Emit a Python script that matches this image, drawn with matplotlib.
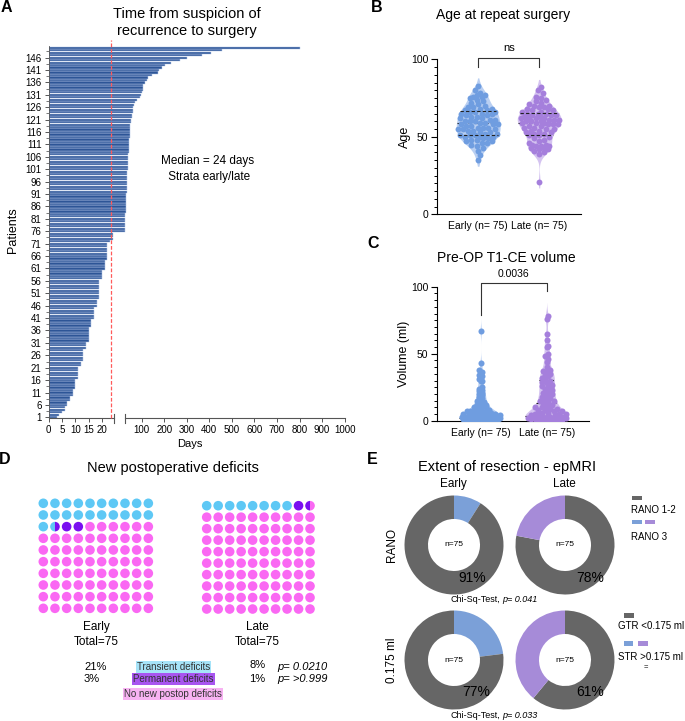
import numpy as np
import matplotlib
matplotlib.use('Agg')
import matplotlib.pyplot as plt
from matplotlib.patches import Circle, Wedge, Rectangle
from matplotlib.ticker import NullLocator, FixedLocator

plt.rcParams['font.family'] = ['Liberation Sans', 'DejaVu Sans']
plt.rcParams['axes.linewidth'] = 0.8

# ---------------- data ----------------
# Panel A: days from suspicion of recurrence to surgery (sorted, patient 1..150)
days = [3, 4, 5, 6, 6, 7, 7, 8, 8, 9,
        9, 9, 10, 10, 10, 10, 11, 11, 11, 11,
        11, 12, 12, 13, 13, 13, 13, 13, 14, 14,
        14, 15, 15, 15, 15, 15, 15, 16, 16, 16,
        17, 17, 17, 17, 17, 18, 18, 18, 19, 19,
        19, 19, 19, 19, 19, 19, 20, 20, 20, 20,
        21, 21, 21, 21, 22, 22, 22, 22, 22, 22,
        22, 23, 24, 24, 24,
        26, 26, 26, 27, 27, 28, 28, 28, 29, 29, 30, 30, 30, 31, 31,
        32, 33, 33, 34, 34, 35, 35, 36, 36, 37,
        38, 38, 39, 39, 40, 41, 41, 42, 42, 43,
        44, 45, 45, 46, 46, 47, 48, 49, 50, 51,
        54, 55, 57, 60, 63, 63, 66, 71, 81,
        92, 98, 101, 104, 104, 107, 115, 122, 129, 144,
        172, 177, 191, 202, 229, 270, 300, 367, 406, 455, 800]
median_line = 23.3
xticks_left = [0, 5, 10, 15, 20]
xticks_right = [100, 200, 300, 400, 500, 600, 700, 800, 900, 1000]
ytick_patients = list(range(1, 150, 5))

# Panel B: age at repeat surgery
age_early = [35, 38, 41, 43, 44, 45, 46, 46, 47, 47, 48, 48, 49, 49, 50, 50, 50, 51, 51, 51,
             52, 52, 53, 53, 54, 54, 55, 55, 55, 56, 56, 56, 57, 57, 58, 58, 58, 59, 59, 60,
             60, 60, 61, 61, 62, 62, 63, 63, 64, 64, 65, 65, 65, 66, 66, 66, 67, 67, 68, 68,
             69, 69, 70, 71, 72, 73, 74, 75, 76, 76, 77, 77, 78, 80, 83]
age_late = [21, 39, 40, 41, 42, 42, 43, 43, 44, 44, 44, 45, 45, 46, 47, 48, 49, 50, 51, 51,
            52, 52, 53, 53, 54, 54, 55, 55, 56, 56, 57, 57, 58, 58, 58, 59, 59, 59, 60, 60,
            60, 61, 61, 61, 62, 62, 62, 62, 63, 63, 64, 64, 64, 65, 65, 65, 66, 66, 67, 67,
            68, 68, 69, 69, 70, 70, 71, 72, 73, 74, 75, 76, 78, 80, 82]
# Panel C: pre-OP T1-CE volume (ml)
vol_early = [67, 43, 38, 36, 34, 33, 31, 30, 30, 25, 24, 23, 22, 21, 20, 19, 18, 17, 16, 15,
             14, 13, 12, 12, 11, 10, 10, 9, 9, 8, 8, 7, 7, 7, 6, 6, 6, 5, 5, 5,
             5, 4, 4, 4, 4, 4, 3, 3, 3, 3, 3, 3, 2, 2, 2, 2, 2, 2, 2, 1.5,
             1.5, 1.5, 1, 1, 1, 1, 1, 1, 0.5, 0.5, 0.5, 0.5, 0.3, 0.2, 0.1]
vol_late = [78, 76, 65, 60, 56, 55, 50, 48, 46, 44, 40, 38, 37, 36, 35, 34, 33, 32, 31, 30,
            29, 28, 27, 26, 25, 24, 23, 22, 21, 20, 19, 18, 17, 16, 15, 15, 14, 13, 12, 11,
            10, 10, 9, 9, 8, 8, 7, 7, 6, 6, 5, 5, 5, 4, 4, 4, 3, 3, 3, 3,
            2, 2, 2, 2, 1.5, 1.5, 1, 1, 1, 0.5, 0.5, 0.5, 0.3, 0.2, 0.1]
group_labels = ['Early (n= 75)', 'Late (n= 75)']
p_age = 'ns'
p_vol = '0.0036'

# Panel D: new postoperative deficits (percent of dots)
def_labels = ['Transient deficits', 'Permanent deficits', 'No new postop deficits']
def_early = [21.5, 2.5, 76.0]
def_late = [8.0, 1.5, 90.5]
def_early_txt = ['21%', '3%']
def_late_txt = ['8%', '1%']
def_pvals = ['p= 0.0210', 'p= >0.999']

# Panel E: extent of resection
rano_early = [91, 9]      # RANO 1-2, RANO 3
rano_late = [78, 22]
ml_early = [77, 23]       # GTR, STR
ml_late = [61, 39]
eor_p = ['p= 0.041', 'p= 0.033']

# ---------------- figure ----------------
W, H = 685, 721
fig = plt.figure(figsize=(W / 100, H / 100), dpi=100)


def box(x0, y0, x1, y1):
    return [x0 / W, 1 - y1 / H, (x1 - x0) / W, (y1 - y0) / H]


def T(x, y, s, **kw):
    kw.setdefault('ha', 'center')
    kw.setdefault('va', 'center')
    return fig.text(x / W, 1 - y / H, s, **kw)


# panel letters
for lx, ly, lt in [(6, 8, 'A'), (377, 8, 'B'), (373, 243, 'C'), (5, 459, 'D'), (372, 459, 'E')]:
    T(lx, ly, lt, fontsize=11.5, fontweight='bold')

# ---------------- Panel A ----------------
BRK = 24.5


def fwd(d):
    d = np.asarray(d, dtype=float)
    return np.where(d <= BRK, 2.68 * d, 93.2 + (d - 100.0) * 0.2255)


def inv(p):
    p = np.asarray(p, dtype=float)
    lo = 2.68 * BRK
    hi = 93.2 + (BRK - 100.0) * 0.2255
    return np.where(p <= lo, p / 2.68, np.where(p >= hi, 100 + (p - 93.2) / 0.2255, BRK))


axA = fig.add_axes(box(48.5, 46, 345, 418.3))
axA.set_xscale('function', functions=(fwd, inv))
patients = np.arange(1, len(days) + 1)
axA.barh(patients, days, height=0.88, color='#2d5597', edgecolor='#b4c6e8', linewidth=0.35, zorder=2)
axA.plot([median_line, median_line], [0.6, 153], color='#ff5a5a', lw=0.9, ls=(0, (3, 1.5)),
         clip_on=False, zorder=3)
tr = axA.get_xaxis_transform()
axA.plot([0, BRK], [0, 0], transform=tr, color='#555555', lw=0.8, clip_on=False)
axA.plot([BRK + 0.01, 1001.5], [0, 0], transform=tr, color='#555555', lw=0.8, clip_on=False)
for xb in [BRK, BRK + 0.01]:
    axA.plot([xb, xb], [-0.012, 0.012], transform=tr, color='#555555', lw=0.8, clip_on=False)
axA.set_xlim(0, 1001.5)
axA.set_ylim(0.6, 150.7)
axA.xaxis.set_major_locator(FixedLocator(xticks_left + xticks_right))
axA.set_xticklabels([str(t) for t in xticks_left + xticks_right], fontsize=7)
axA.xaxis.set_minor_locator(NullLocator())
axA.set_yticks(ytick_patients)
axA.set_yticklabels([str(t) for t in ytick_patients], fontsize=7)
axA.yaxis.set_minor_locator(FixedLocator([t + 2.5 for t in ytick_patients]))
axA.tick_params(axis='both', which='major', length=3, width=0.7, color='#555555', pad=2)
axA.tick_params(axis='y', which='minor', length=2, width=0.7, color='#777777')
for s in ['top', 'right', 'bottom']:
    axA.spines[s].set_visible(False)
axA.spines['left'].set_color('#555555')
axA.spines['left'].set_linewidth(0.6)
axA.set_ylabel('Patients', fontsize=9)
axA.yaxis.set_label_coords(-0.098, 0.506)
axA.set_xlabel('Days', fontsize=8)
axA.xaxis.set_label_coords(0.477, -0.055)
T(187, 22.5, 'Time from suspicion of\nrecurrence to surgery', fontsize=10.5, linespacing=1.25)
T(208, 169, 'Median = 24 days\n Strata early/late', fontsize=8.5, linespacing=1.35)


# ---------------- helpers for B, C ----------------
def kde(vals, grid, bw):
    v = np.asarray(vals, float)[:, None]
    return np.exp(-0.5 * ((grid[None, :] - v) / bw) ** 2).sum(0)


def beeswarm(vals, ppx, ppy, diam, maxws, mind):
    vals = np.asarray(vals, float)
    order = np.argsort(vals)
    pys, pxs = [], []
    out = np.zeros(len(vals))
    step = diam * 0.3
    for i in order:
        y = vals[i] * ppy
        cands = [0.0]
        k = 1
        while k * step <= maxws[i]:
            cands += [k * step, -k * step]
            k += 1
        best, bestd = 0.0, -1.0
        if pys:
            PY = np.array(pys)
            PX = np.array(pxs)
        for c in cands:
            md = np.min(np.hypot(c - PX, y - PY)) if pys else 1e9
            if md >= diam * mind:
                best = c
                break
            if md > bestd:
                bestd, best = md, c
        pys.append(y)
        pxs.append(best)
        out[i] = best / ppx
    return out


def violin_panel(ax, data, bws, los, his, halfw, vcols, dcols, ppx, ppy, diam, ms, qz, mind):
    for pos, vals in enumerate(data):
        grid = np.linspace(los[pos], his[pos], 400)
        d = kde(vals, grid, bws[pos])
        d = d / d.max() * halfw
        ax.fill_betweenx(grid, pos - d, pos + d, color=vcols[pos], lw=0, zorder=1)
        q1, med, q3 = np.percentile(vals, [25, 50, 75])
        for q, z in [(med, 2), (q1, qz), (q3, qz)]:
            w = np.interp(q, grid, d)
            ax.plot([pos - w, pos + w], [q, q], color='#222222', lw=0.8, ls=(0, (3, 2)), zorder=z)
        maxws = np.maximum(np.interp(vals, grid, d) * ppx - diam * 0.3, diam * 0.35)
        xs = beeswarm(vals, ppx, ppy, diam, maxws, mind)
        ax.scatter(pos + xs, vals, s=ms, color=dcols[pos], lw=0, zorder=3)


vcols = ['#b9cff2', '#d4c3f0']
dcols = ['#6f9de0', '#a57fdc']

# ---------------- Panel B ----------------
axB = fig.add_axes(box(436.7, 59.3, 580.7, 214.3))
violin_panel(axB, [age_early, age_late], [4.0, 4.0], [31, 17], [88, 87], 0.36,
             vcols, dcols, 61, 1.55, 5.6, 18, 4, 0.85)
axB.set_xlim(-0.68, 1.68)
axB.set_ylim(0, 100)
axB.set_yticks([0, 50, 100])
axB.yaxis.set_minor_locator(FixedLocator(list(range(0, 101, 5))))
axB.set_xticks([0, 1])
axB.set_xticklabels(group_labels, fontsize=7.5)
axB.tick_params(axis='x', length=0, pad=5)
axB.tick_params(axis='y', which='major', length=4, width=0.8, labelsize=7.5, pad=2)
axB.tick_params(axis='y', which='minor', length=2.5, width=0.7)
for s in ['top', 'right']:
    axB.spines[s].set_visible(False)
axB.set_ylabel('Age', fontsize=9)
axB.yaxis.set_label_coords(-0.18, 0.5)
axB.plot([0, 0, 1, 1], [95.2, 100.6, 100.6, 95.2], color='#333333', lw=0.8, clip_on=False)
axB.text(0.5, 107.3, p_age, ha='center', va='center', fontsize=8)
T(503, 15, 'Age at repeat surgery', fontsize=10)

# ---------------- Panel C ----------------
axC = fig.add_axes(box(436.7, 286.7, 589.3, 420.7))
violin_panel(axC, [vol_early, vol_late], [3.5, 4.0], [0, 0], [80, 88], 0.33,
             vcols, dcols, 66, 1.34, 5.8, 19, 2, 0.75)
axC.set_xlim(-0.667, 1.645)
axC.set_ylim(0, 100)
axC.set_yticks([0, 50, 100])
axC.yaxis.set_minor_locator(FixedLocator(list(range(0, 101, 5))))
axC.set_xticks([0, 1])
axC.set_xticklabels(group_labels, fontsize=7.5)
axC.tick_params(axis='x', length=0, pad=5)
axC.tick_params(axis='y', which='major', length=4, width=0.8, labelsize=7.5, pad=2)
axC.tick_params(axis='y', which='minor', length=2.5, width=0.7)
for s in ['top', 'right']:
    axC.spines[s].set_visible(False)
axC.set_ylabel('Volume (ml)', fontsize=9)
axC.yaxis.set_label_coords(-0.178, 0.5)
axC.plot([0, 0, 1, 1], [79, 103, 103, 97], color='#333333', lw=0.8, clip_on=False)
axC.text(0.5, 109.3, p_vol, ha='center', va='center', fontsize=7.5)
T(506.7, 258.3, 'Pre-OP T1-CE volume', fontsize=10)

# ---------------- Panel D (waffles) ----------------
axO = fig.add_axes([0, 0, 1, 1])
axO.set_xlim(0, W)
axO.set_ylim(H, 0)
axO.axis('off')
axO.set_zorder(-1)

wcols = ['#5ec8f5', '#7a0ff0', '#fa68f3']


def waffle(ax, x0, y0, sp, r, pcts, colors):
    bounds = np.concatenate([[0], np.cumsum(pcts)])
    for idx in range(100):
        row, col = divmod(idx, 10)
        cx, cy = x0 + col * sp, y0 + row * sp
        parts = []
        for k in range(len(pcts)):
            a = max(idx, bounds[k])
            b = min(idx + 1, bounds[k + 1])
            if b - a > 1e-9:
                parts.append((k, b - a))
        if len(parts) == 1:
            ax.add_patch(Circle((cx, cy), r, color=colors[parts[0][0]], lw=0))
        else:
            ang = 90
            for k, f in parts:
                ax.add_patch(Wedge((cx, cy), r, ang, ang + 360 * f, color=colors[k], lw=0))
                ang += 360 * f


waffle(axO, 43.3, 503.3, 11.67, 4.8, def_early, wcols)
waffle(axO, 206.7, 505.7, 11.48, 4.8, def_late, wcols)
T(173, 468, 'New postoperative deficits', fontsize=10.5)
T(96.7, 627.3, 'Early', fontsize=8.5)
T(96.7, 642.3, 'Total=75', fontsize=8.5)
T(257.7, 627.3, 'Late', fontsize=8.5)
T(257.7, 642.3, 'Total=75', fontsize=8.5)
T(95.7, 666.7, def_early_txt[0], fontsize=8)
T(92, 679.3, def_early_txt[1], fontsize=8)
T(257.3, 665.5, def_late_txt[0], fontsize=8)
T(257.3, 678.5, def_late_txt[1], fontsize=8)
T(277.7, 666.7, def_pvals[0], fontsize=8, ha='left', style='italic')
T(277.7, 679.3, def_pvals[1], fontsize=8, ha='left', style='italic')
lab_boxes = ['#a6e3f8', '#a855f0', '#f7b2f2']
for (yy, lab, bc) in zip([666.7, 679.3, 694], def_labels, lab_boxes):
    T(173.3, yy, lab, fontsize=7, color='#333333',
      bbox=dict(boxstyle='square,pad=0.12', facecolor=bc, edgecolor='none'))

# ---------------- Panel E (donuts) ----------------
egray, eblue, epurp = '#666666', '#7ba0d8', '#a68bd8'
R = 49.5
HOLE = 26.0


def donut(cx, cy, vals, cols):
    ax = fig.add_axes(box(cx - 1.25 * R, cy - 1.25 * R, cx + 1.25 * R, cy + 1.25 * R))
    ax.pie(vals, colors=cols, startangle=90, counterclock=False, radius=1,
           wedgeprops=dict(width=1 - HOLE / R, linewidth=0))
    ax.set_xlim(-1.25, 1.25)
    ax.set_ylim(-1.25, 1.25)
    ax.set_aspect('equal')
    ax.axis('off')
    T(cx, cy, 'n=75', fontsize=6)
    return ax


donut(454, 545, [rano_early[1], rano_early[0]], [eblue, egray])
donut(565, 545, [rano_late[0], rano_late[1]], [egray, epurp])
donut(454, 660, [ml_early[1], ml_early[0]], [eblue, egray])
donut(565, 660, [ml_late[0], ml_late[1]], [egray, epurp])

T(472.3, 578, f'{rano_early[0]}%', fontsize=10)
T(590, 578, f'{rano_late[0]}%', fontsize=10)
T(475.7, 692.3, f'{ml_early[0]}%', fontsize=10)
T(590, 692.3, f'{ml_late[0]}%', fontsize=10)

T(506.7, 467.3, 'Extent of resection - epMRI', fontsize=10.5)
T(453.3, 484.3, 'Early', fontsize=8.5)
T(564, 484.3, 'Late', fontsize=8.5)
T(391.7, 545, 'RANO', fontsize=8.5, rotation=90)
T(391.7, 660, '0.175 ml', fontsize=8.5, rotation=90)
T(500, 599.3, 'Chi-Sq-Test,', fontsize=6.5, ha='right')
T(502.3, 599.3, eor_p[0], fontsize=6.5, ha='left', style='italic')
T(500, 716, 'Chi-Sq-Test,', fontsize=6.5, ha='right')
T(502.3, 716, eor_p[1], fontsize=6.5, ha='left', style='italic')

# legend E
axO.add_patch(Rectangle((632, 495.7), 9.7, 4.5, color=egray, lw=0))
T(630.7, 510, 'RANO 1-2', fontsize=7, ha='left')
axO.add_patch(Rectangle((631.7, 519.5), 10, 4.5, color=eblue, lw=0))
axO.add_patch(Rectangle((645, 519.5), 10, 4.5, color=epurp, lw=0))
T(630.7, 536.7, 'RANO 3', fontsize=7, ha='left')
axO.add_patch(Rectangle((624, 613), 10, 4.5, color=egray, lw=0))
T(618.3, 626, 'GTR <0.175 ml', fontsize=7, ha='left')
axO.add_patch(Rectangle((624, 641), 9.5, 4.5, color=eblue, lw=0))
axO.add_patch(Rectangle((638.3, 641), 10, 4.5, color=epurp, lw=0))
T(618.3, 656.5, 'STR >0.175 ml', fontsize=7, ha='left')
T(645.5, 667.5, '=', fontsize=5.5)

fig.savefig('out.png', dpi=100)
